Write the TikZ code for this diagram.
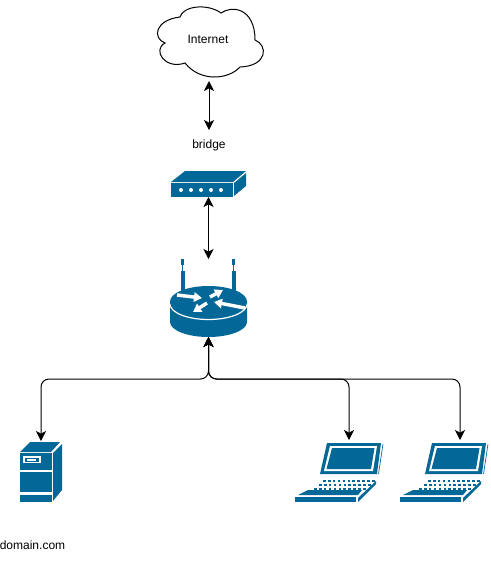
\documentclass[tikz,border=0pt]{standalone}
\usepackage{fontspec}
\setmainfont{Liberation Sans}
\usetikzlibrary{arrows.meta}
\definecolor{ciscoblue}{HTML}{036897}
\tikzset{
  iconbox/.style={inner sep=0pt,outer sep=0pt},
  lbl/.style={inner sep=0pt,outer sep=0pt,font=\fontsize{9pt}{11pt}\selectfont},
  link/.style={<->,line width=0.75pt,black},
  routerarrow/.style={white,line width=2.6pt,-{Triangle[length=6pt,width=7pt]}},
  laptop/.pic={
    \fill[ciscoblue] (0,0) -- (54,0) -- (50,31) -- (-7,31) -- cycle;
    \fill[white] (3,3) -- (50,3) -- (46,28) -- (-3,28) -- cycle;
    \fill[ciscoblue] (5,5) -- (47.5,5) -- (44,26) -- (-0.5,26) -- cycle;
    \draw[ciscoblue,line width=0.5pt] (56,1) -- (51.5,31);
    \foreach \rowy/\rowx in {37/-4,41/-8,45/-13}
      \foreach \k in {0,...,10}
        \fill[ciscoblue] (\rowx+\k*4.9,\rowy) rectangle ++(2.6,1.5);
    \fill[ciscoblue] (-29,52) -- (-19,47) -- (35,47) -- (31,52) -- cycle;
    \fill[ciscoblue] (-32,54) -- (29,54) -- (29,59) -- (-32,59) -- cycle;
    \fill[ciscoblue] (31,55) -- (49,38) -- (49,41) -- (31,59) -- cycle;
  }
}
\begin{document}
\begin{tikzpicture}[x=0.75pt,y=-0.75pt,>={Stealth[length=7.5pt,width=7.5pt,inset=2pt]}]
  \useasboundingbox (0,0) rectangle (491,561);
  % cloud
  \draw[black,line width=0.75pt,fill=white] (165,43) .. controls (152,38) and (155,20) .. (180,17)
    .. controls (183,6) and (207,3) .. (221,13)
    .. controls (232,5) and (255,8) .. (255,40)
    .. controls (268,45) and (268,66) .. (240,67)
    .. controls (228,80) and (200,82) .. (185,63)
    .. controls (165,70) and (152,50) .. (165,43) -- cycle;
  \node[iconbox,minimum width=81pt,minimum height=57pt] (internet) at (209,43) {};
  \node[lbl] (internetlabel) at (208,39.5) {Internet};
  \node[lbl,minimum height=22.5pt] (bridgelabel) at (209,145) {bridge};
  % bridge box
  \node[iconbox,minimum width=56.25pt,minimum height=19.5pt] (bridge) at (208.5,184) {};
  \fill[ciscoblue] (171,182) -- (185,171) -- (246,171) -- (233,182) -- cycle;
  \fill[ciscoblue] (171,183) rectangle (233,197);
  \fill[ciscoblue] (234,183) -- (246,173) -- (246,186) -- (234,196) -- cycle;
  \foreach \dotx in {181,191,201,211,221}
    \fill[white] (\dotx,190) circle (1.5pt);
  % router
  \node[iconbox,minimum width=57.75pt,minimum height=58.5pt] (router) at (208.5,298) {};
  \fill[ciscoblue] (181,259) rectangle (184,265);
  \fill[ciscoblue] (232,259) rectangle (235,265);
  \fill[ciscoblue] (182,265) rectangle (183,271);
  \fill[ciscoblue] (233,265) rectangle (234,271);
  \fill[ciscoblue] (180.5,271) rectangle (184.5,292);
  \fill[ciscoblue] (231.5,271) rectangle (235.5,292);
  \fill[ciscoblue] (170,301) -- (170,322) arc (180:0:38.5 and 15) -- (247,301) -- cycle;
  \draw[white,line width=0.9pt] (170,304) arc (180:0:38.5 and 15.5);
  \fill[ciscoblue] (208.5,301.5) ellipse (38.5 and 15.5);
  \draw[routerarrow] (177,295) -- (202,298);
  \draw[routerarrow] (210,297) -- (223,290);
  \draw[routerarrow] (245,308) -- (214,302);
  \draw[routerarrow] (207,303) -- (193,312);
  % server
  \node[iconbox,minimum width=31.5pt,minimum height=45pt] (server) at (41,471) {};
  \fill[ciscoblue] (20,452) -- (30,442) -- (60,442) -- (51,452) -- cycle;
  \fill[ciscoblue] (20,453) rectangle (52,470);
  \fill[ciscoblue] (20,472) rectangle (52,492);
  \fill[ciscoblue] (20,495) rectangle (52,502);
  \fill[ciscoblue] (53,453) -- (62,444) -- (62,490) -- (53,501) -- cycle;
  \fill[white] (23,456) rectangle (41,463);
  \fill[ciscoblue] (25,458) rectangle (39,461.5);
  \fill[white] (27,458.8) rectangle (36,460.8);
  \node[lbl] (domainlabel) at (32.5,545) {domain.com};
  % laptops
  \pic at (327,443) {laptop};
  \pic at (432,443) {laptop};
  \coordinate (laptopa) at (349,440);
  \coordinate (laptopb) at (460,440);
  % links
  \draw[link] (internet.south) -- (bridgelabel.north);
  \draw[link] (bridge.south) -- (router.north);
  \draw[link,rounded corners=6pt] (router.south) -- ++(0,42) -| (server.north);
  \draw[link,rounded corners=6pt] (router.south) -- ++(0,42) -| (laptopa);
  \draw[link,rounded corners=6pt] (router.south) -- ++(0,42) -| (laptopb);
\end{tikzpicture}
\end{document}
